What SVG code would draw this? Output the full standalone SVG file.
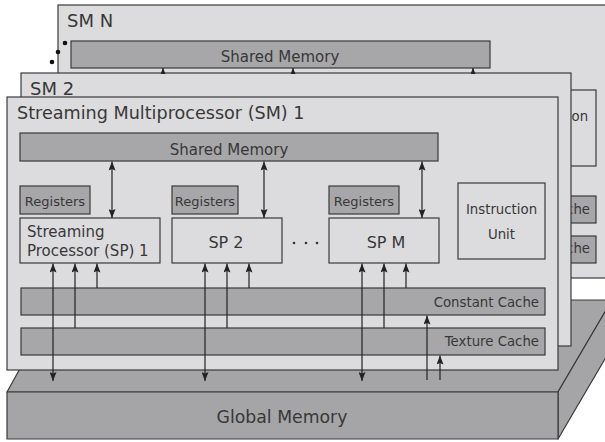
<svg xmlns="http://www.w3.org/2000/svg" width="605" height="442" viewBox="0 0 605 442">
<style>
.panel{fill:#dcdcde;stroke:#3a3a3a;stroke-width:1.2}
.dark{fill:#a7a7a9;stroke:#3a3a3a;stroke-width:1.2}
.lite{fill:#dcdcde;stroke:#3a3a3a;stroke-width:1.2}
.gm{fill:#a5a5a7;stroke:#3a3a3a;stroke-width:1.2;stroke-linejoin:round}
.t{font-family:"DejaVu Sans","Liberation Sans",sans-serif;fill:#383838}
.c{text-anchor:middle}
.e{text-anchor:end}
.conn line{stroke:#222;stroke-width:1.2;fill:none}
</style>
<defs>
<marker id="ah" viewBox="0 0 9 7" markerWidth="9" markerHeight="7" refX="9" refY="3.5" orient="auto-start-reverse" markerUnits="userSpaceOnUse">
<path d="M0,0 L9,3.5 L0,7 L1.5,3.5 z" fill="#222"/>
</marker>
<marker id="ahs" viewBox="0 0 6 5" markerWidth="6" markerHeight="5" refX="6" refY="2.5" orient="auto" markerUnits="userSpaceOnUse">
<path d="M0,0 L6,2.5 L0,5 z" fill="#222"/>
</marker>
</defs>

<g id="global-memory">
<polygon class="gm" points="7,392 58,300 612,300 558,392"/>
<polygon class="gm" points="558,392 612,300 612,347 558,439"/>
<rect class="gm" x="7" y="392" width="551" height="47"/>
<text class="t c" x="282" y="423" font-size="17.3">Global Memory</text>
</g>

<g id="sm-n">
<rect class="panel" x="58" y="5" width="556" height="273"/>
<text class="t" x="67" y="27" font-size="18">SM N</text>
<circle cx="65" cy="43" r="2.3" fill="#111"/>
<circle cx="58" cy="52" r="2.3" fill="#111"/>
<circle cx="52" cy="62" r="2.3" fill="#111"/>
<rect class="dark" x="71" y="41" width="419" height="27"/>
<text class="t c" x="280" y="62" font-size="15">Shared Memory</text>
<rect class="lite" x="509" y="90" width="87" height="76"/>
<text class="t c" x="552.5" y="121" font-size="13.3">Instruction</text>
<rect class="dark" x="72" y="196" width="524" height="27"/>
<text class="t e" x="590" y="214" font-size="13.3">Cache</text>
<rect class="dark" x="72" y="236" width="524" height="27"/>
<text class="t e" x="590" y="253" font-size="13.3">Cache</text>
</g>

<g id="sm-2">
<rect class="panel" x="21" y="73" width="550" height="273"/>
<text class="t" x="30" y="95" font-size="18">SM 2</text>
</g>

<g id="sm-1">
<rect class="panel" x="7" y="97" width="551" height="273"/>
<text class="t" x="17" y="119" font-size="17.6">Streaming Multiprocessor (SM) 1</text>
</g>

<g id="shared-memory">
<rect class="dark" x="20" y="133" width="418" height="28"/>
<text class="t c" x="229" y="155" font-size="15">Shared Memory</text>
</g>

<g id="registers-1">
<rect class="dark" x="20" y="186" width="70" height="28"/>
<text class="t c" x="55" y="206" font-size="13">Registers</text>
</g>
<g id="registers-2">
<rect class="dark" x="172" y="186" width="66" height="28"/>
<text class="t c" x="205" y="206" font-size="13">Registers</text>
</g>
<g id="registers-m">
<rect class="dark" x="329" y="186" width="70" height="28"/>
<text class="t c" x="364" y="206" font-size="13">Registers</text>
</g>

<g id="sp-1">
<rect class="lite" x="20" y="218" width="140" height="45"/>
<text class="t" x="27" y="237" font-size="15">Streaming</text>
<text class="t" x="27" y="256" font-size="15">Processor (SP) 1</text>
</g>
<g id="sp-2">
<rect class="lite" x="172" y="218" width="110" height="45"/>
<text class="t c" x="226" y="248" font-size="16">SP 2</text>
</g>
<g id="ellipsis">
<circle cx="294" cy="243" r="1.3" fill="#333"/>
<circle cx="306" cy="243" r="1.3" fill="#333"/>
<circle cx="317" cy="243" r="1.3" fill="#333"/>
</g>
<g id="sp-m">
<rect class="lite" x="329" y="218" width="110" height="45"/>
<text class="t c" x="386" y="248" font-size="16">SP M</text>
</g>

<g id="instruction-unit">
<rect class="lite" x="458" y="183" width="87" height="76"/>
<text class="t c" x="501.5" y="214" font-size="13.3">Instruction</text>
<text class="t c" x="501.5" y="239" font-size="13.3">Unit</text>
</g>

<g id="constant-cache">
<rect class="dark" x="21" y="288" width="524" height="27"/>
<text class="t e" x="539" y="307" font-size="13.3">Constant Cache</text>
</g>

<g id="texture-cache">
<rect class="dark" x="21" y="328" width="524" height="27"/>
<text class="t e" x="539" y="346" font-size="13.3">Texture Cache</text>
</g>

<g id="connectors" class="conn">
<line x1="163" y1="73.5" x2="163" y2="68" marker-end="url(#ahs)"/>
<line x1="293" y1="73.5" x2="293" y2="68" marker-end="url(#ahs)"/>
<line x1="473" y1="73.5" x2="473" y2="68" marker-end="url(#ahs)"/>

<line x1="112" y1="161.5" x2="112" y2="218" marker-start="url(#ah)" marker-end="url(#ah)"/>
<line x1="264" y1="161.5" x2="264" y2="218" marker-start="url(#ah)" marker-end="url(#ah)"/>
<line x1="422" y1="161.5" x2="422" y2="218" marker-start="url(#ah)" marker-end="url(#ah)"/>

<line x1="53" y1="263.5" x2="53" y2="381" marker-start="url(#ah)" marker-end="url(#ah)"/>
<line x1="75" y1="328" x2="75" y2="263.5" marker-end="url(#ah)"/>
<line x1="97" y1="288" x2="97" y2="263.5" marker-end="url(#ah)"/>

<line x1="205" y1="263.5" x2="205" y2="381" marker-start="url(#ah)" marker-end="url(#ah)"/>
<line x1="227" y1="328" x2="227" y2="263.5" marker-end="url(#ah)"/>
<line x1="249" y1="288" x2="249" y2="263.5" marker-end="url(#ah)"/>

<line x1="362" y1="263.5" x2="362" y2="381" marker-start="url(#ah)" marker-end="url(#ah)"/>
<line x1="384" y1="328" x2="384" y2="263.5" marker-end="url(#ah)"/>
<line x1="406" y1="288" x2="406" y2="263.5" marker-end="url(#ah)"/>

<line x1="427" y1="380" x2="427" y2="315.5" marker-end="url(#ah)"/>
<line x1="440" y1="380" x2="440" y2="355.5" marker-end="url(#ah)"/>
</g>
</svg>
